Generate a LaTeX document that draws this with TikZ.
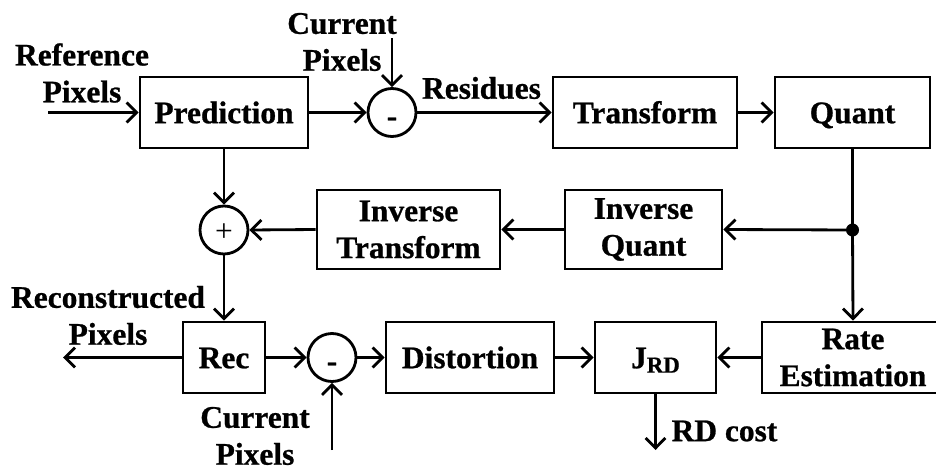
\documentclass[tikz,border=0pt]{standalone}
\usepackage{fontspec}
\setmainfont{Liberation Serif}[BoldFeatures={FakeBold=0.8}]
\usetikzlibrary{arrows.meta}
\tikzstyle{block} = [rectangle, draw, line width=1.6pt, minimum height=1.42cm, align=center, inner sep=2pt]
\tikzstyle{onerow} = [block, text height=12.2pt, text depth=0pt]
\tikzstyle{sumnode} = [circle, draw, line width=1.6pt, minimum size=0.96cm, inner sep=0pt]
\tikzstyle{joint} = [circle, fill, minimum size=0.26cm, inner sep=0pt]
\tikzstyle{lbl} = [align=center, inner sep=0pt]
\tikzstyle{arrow} = [line width=1.6pt, -{Straight Barb[length=5.7pt,width=11.3pt]}]

\begin{document}
\begin{tikzpicture}[x=0.02cm, y=-0.02cm, font=\fontsize{17.9}{21}\selectfont\bfseries]
\useasboundingbox (0,0) rectangle (936,470);
% forward path
\node[onerow, minimum width=3.36cm] (pred) at (224,112.5) {Prediction};
\node[sumnode] (sub1) at (392,112.5) {\vphantom{Ag}\raisebox{-4pt}[0pt][0pt]{-}};
\node[onerow, minimum width=3.68cm] (trans) at (645,112.5) {Transform};
\node[onerow, minimum width=3.1cm] (quant) at (852.5,112.5) {Quant};

% reconstruction loop
\node[joint] (jn) at (852.5,230) {};
\node[block, minimum width=3.14cm, minimum height=1.58cm] (iquant) at (643.5,229.5) {Inverse\\Quant};
\node[block, minimum width=3.66cm, minimum height=1.58cm] (itrans) at (408.5,229.5) {Inverse\\Transform};
\node[sumnode] (add) at (224,230) {\mdseries\vphantom{Ag}\raisebox{-2.5pt}[0pt][0pt]{+}};

% RD cost path
\node[onerow, minimum width=1.64cm] (rec) at (224,357.5) {Rec};
\node[sumnode] (sub2) at (332,357.5) {\vphantom{Ag}\raisebox{-4pt}[0pt][0pt]{-}};
\node[onerow, minimum width=3.36cm] (dist) at (470,357.5) {Distortion};
\node[onerow, minimum width=2.42cm] (jrd) at (655.5,357.5) {J\raisebox{-2.5pt}{\fontsize{13}{13}\selectfont RD}};
\node[block, minimum width=3.64cm] (rate) at (853,357.5) {Rate\\Estimation};

% labels
\node[lbl] (reflbl) at (82,73) {Reference\\Pixels};
\node[lbl] (curlbl1) at (342,42) {Current\\Pixels};
\node[lbl] (reslbl) at (481.5,88) {Residues};
\node[lbl] (reclbl) at (108,315.5) {Reconstructed\\Pixels};
\node[lbl] (curlbl2) at (255,436) {Current\\Pixels};
\node[lbl] (rdlbl) at (724.5,431) {RD cost};

\coordinate (refin) at (48,112.5);
\coordinate (curin1) at (392,38);
\coordinate (recout) at (63,357.5);
\coordinate (curin2) at (332,450);
\coordinate (rdout) at (655.5,450);

\draw[arrow] (refin) -- (pred.west);
\draw[arrow] (pred.east) -- (sub1.west);
\draw[arrow] (curin1) -- (sub1.north);
\draw[arrow] (sub1.east) -- (trans.west);
\draw[arrow] (trans.east) -- (quant.west);
\draw[line width=1.6pt] (quant.south) -- (jn.center);
\draw[arrow] (jn.center) -- (iquant.east);
\draw[arrow] (jn.center) -- (rate.north);
\draw[arrow] (iquant.west) -- (itrans.east);
\draw[arrow] (itrans.west) -- (add.east);
\draw[arrow] (pred.south) -- (add.north);
\draw[arrow] (add.south) -- (rec.north);
\draw[arrow] (rec.west) -- (recout);
\draw[arrow] (rec.east) -- (sub2.west);
\draw[arrow] (curin2) -- (sub2.south);
\draw[arrow] (sub2.east) -- (dist.west);
\draw[arrow] (dist.east) -- (jrd.west);
\draw[arrow] (rate.west) -- (jrd.east);
\draw[arrow] (jrd.south) -- (rdout);
\end{tikzpicture}
\end{document}
